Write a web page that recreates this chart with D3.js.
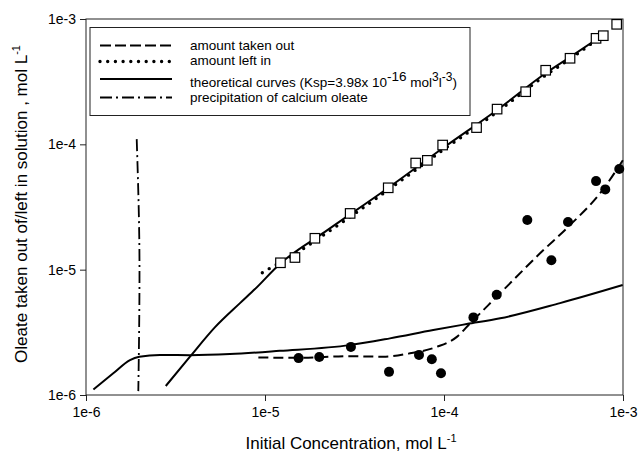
<!DOCTYPE html>
<html>
<head>
<meta charset="utf-8">
<script src="https://cdn.jsdelivr.net/npm/d3@7"></script>
<style>
  body { margin: 0; background: #fff; }
  svg { display: block; font-family: Arial, "Liberation Sans", sans-serif; }
</style>
</head>
<body>
<div id="chart"></div>
<script>
// --------------- Data ---------------
// measured: amount left in solution (open squares)
const leftInConc = [1.22e-5, 1.47e-5, 1.90e-5, 2.99e-5, 4.88e-5, 6.95e-5, 8.07e-5, 9.83e-5,
  1.52e-4, 1.98e-4, 2.86e-4, 3.70e-4, 5.06e-4, 7.07e-4, 7.76e-4, 9.22e-4];
const leftInVal = [1.135e-5, 1.25e-5, 1.78e-5, 2.81e-5, 4.50e-5, 7.09e-5, 7.45e-5, 9.87e-5,
  1.36e-4, 1.91e-4, 2.63e-4, 3.90e-4, 4.86e-4, 7.01e-4, 7.36e-4, 9.07e-4];

// measured: amount taken out (filled circles)
const takenOutConc = [1.54e-5, 2.01e-5, 3.02e-5, 4.93e-5, 7.25e-5, 8.55e-5, 9.62e-5, 1.46e-4,
  1.97e-4, 2.92e-4, 3.98e-4, 4.93e-4, 7.07e-4, 7.96e-4, 9.53e-4];
const takenOutVal = [1.97e-6, 2.01e-6, 2.42e-6, 1.53e-6, 2.09e-6, 1.93e-6, 1.49e-6, 4.16e-6,
  6.30e-6, 2.49e-5, 1.19e-5, 2.40e-5, 5.09e-5, 4.37e-5, 6.35e-5];

// curve: amount taken out (dashed)
const takenCurveConc = [9.18e-6, 1.54e-5, 2.98e-5, 4.58e-5, 6.46e-5, 9.10e-5, 1.18e-4, 1.40e-4,
  1.97e-4, 3.44e-4, 5.06e-4, 7.44e-4, 1.0e-3];
const takenCurveVal = [1.995e-6, 1.98e-6, 2.04e-6, 2.02e-6, 2.15e-6, 2.42e-6, 2.91e-6, 3.73e-6,
  6.08e-6, 1.35e-5, 2.27e-5, 4.06e-5, 7.49e-5];

// curve: amount left in (dotted)
const leftCurveConc = [9.66e-6, 1.076e-5, 1.29e-5, 2.16e-5, 4.87e-5, 9.87e-5, 1.98e-4, 3.71e-4,
  5.06e-4, 6.98e-4];
const leftCurveVal = [9.45e-6, 1.035e-5, 1.19e-5, 1.92e-5, 4.32e-5, 9.01e-5, 1.81e-4, 3.57e-4,
  4.80e-4, 6.67e-4];

// theoretical curves (solid)
const theoryAConc = [1.10e-6, 1.42e-6, 1.76e-6, 1.985e-6, 2.59e-6, 3.81e-6, 6.37e-6, 1.21e-5,
  2.98e-5, 4.99e-5, 8.71e-5, 1.34e-4, 2.06e-4, 4.45e-4, 9.96e-4];
const theoryAVal = [1.108e-6, 1.49e-6, 1.90e-6, 2.02e-6, 2.09e-6, 2.08e-6, 2.12e-6, 2.25e-6,
  2.50e-6, 2.83e-6, 3.30e-6, 3.68e-6, 4.09e-6, 5.41e-6, 7.54e-6];
const theoryBConc = [2.79e-6, 3.81e-6, 5.26e-6, 7.25e-6, 8.79e-6, 1.21e-5, 2.16e-5, 4.87e-5,
  9.87e-5, 1.98e-4, 3.71e-4, 5.06e-4, 7.44e-4];
const theoryBVal = [1.18e-6, 2.02e-6, 3.48e-6, 5.41e-6, 7.0e-6, 1.11e-5, 2.0e-5, 4.48e-5,
  9.34e-5, 1.88e-4, 3.71e-4, 4.97e-4, 7.18e-4];

// precipitation of calcium oleate (dash-dot)
const precipConc = [1.92e-6, 1.99e-6, 1.96e-6];
const precipVal = [1.10e-4, 9.93e-6, 1.074e-6];

const tickValues = [1e-6, 1e-5, 1e-4, 1e-3];

// --------------- Constants ---------------
const WIDTH = 641;
const HEIGHT = 459;
const LEFT = 86, RIGHT = 623, TOP = 19, BOTTOM = 395;
const INK = "#000";

const zip = (xs, ys) => xs.map((x, i) => [x, ys[i]]);

const svg = d3.select("#chart").append("svg")
  .attr("width", WIDTH)
  .attr("height", HEIGHT);

const x = d3.scaleLog().domain([1e-6, 1e-3]).range([LEFT, RIGHT]);
const y = d3.scaleLog().domain([1e-6, 1e-3]).range([BOTTOM, TOP]);

const fmt = (d) => "1e" + Math.round(Math.log10(d));

// axes
const xAxis = svg.append("g")
  .attr("transform", `translate(0,${BOTTOM})`)
  .call(d3.axisBottom(x).tickValues(tickValues).tickFormat(fmt).tickSize(6).tickPadding(6));
const yAxis = svg.append("g")
  .attr("transform", `translate(${LEFT},0)`)
  .call(d3.axisLeft(y).tickValues(tickValues).tickFormat(fmt).tickSize(6).tickPadding(4));

[xAxis, yAxis].forEach((a) => {
  a.select(".domain").remove();
  a.selectAll("line").attr("stroke", "#222");
  a.selectAll("text").attr("font-size", 14).attr("fill", INK)
    .attr("font-family", "Arial, 'Liberation Sans', sans-serif");
});

// frame
svg.append("rect")
  .attr("x", LEFT).attr("y", TOP)
  .attr("width", RIGHT - LEFT).attr("height", BOTTOM - TOP)
  .attr("fill", "none").attr("stroke", "#222").attr("stroke-width", 1);

// --------------- Curves ---------------
const line = d3.line().x((d) => x(d[0])).y((d) => y(d[1])).curve(d3.curveMonotoneX);
const vline = d3.line().x((d) => x(d[0])).y((d) => y(d[1])).curve(d3.curveMonotoneY);

const plot = svg.append("g");

plot.append("path").datum(zip(theoryAConc, theoryAVal))
  .attr("d", line).attr("fill", "none").attr("stroke", INK).attr("stroke-width", 2);
plot.append("path").datum(zip(theoryBConc, theoryBVal))
  .attr("d", line).attr("fill", "none").attr("stroke", INK).attr("stroke-width", 2);
plot.append("path").datum(zip(takenCurveConc, takenCurveVal))
  .attr("d", line).attr("fill", "none").attr("stroke", INK).attr("stroke-width", 2)
  .attr("stroke-dasharray", "10,5");
plot.append("path").datum(zip(leftCurveConc, leftCurveVal))
  .attr("d", line).attr("fill", "none").attr("stroke", INK).attr("stroke-width", 3.4)
  .attr("stroke-linecap", "round").attr("stroke-dasharray", "0,8");
plot.append("path").datum(zip(precipConc, precipVal))
  .attr("d", vline).attr("fill", "none").attr("stroke", INK).attr("stroke-width", 1.8)
  .attr("stroke-dasharray", "12,4,2,4");

// markers
plot.append("g").selectAll("circle")
  .data(zip(takenOutConc, takenOutVal))
  .join("circle")
  .attr("cx", (d) => x(d[0])).attr("cy", (d) => y(d[1]))
  .attr("r", 5).attr("fill", INK);

const SQ = 9.5;
plot.append("g").selectAll("rect")
  .data(zip(leftInConc, leftInVal))
  .join("rect")
  .attr("x", (d) => x(d[0]) - SQ / 2).attr("y", (d) => y(d[1]) - SQ / 2)
  .attr("width", SQ).attr("height", SQ)
  .attr("fill", "#fff").attr("stroke", INK).attr("stroke-width", 1.2);

// --------------- Legend ---------------
const legend = svg.append("g");
legend.append("rect")
  .attr("x", 90).attr("y", 27.5).attr("width", 380).attr("height", 88)
  .attr("fill", "#fff").attr("stroke", "#222").attr("stroke-width", 1);

const samples = [
  { y: 45.5, dash: "11,4", w: 2, cap: "butt" },
  { y: 61.5, dash: "0,7.7", w: 3.4, cap: "round" },
  { y: 79, dash: null, w: 2, cap: "butt" },
  { y: 97.5, dash: "12,4,2,4", w: 1.8, cap: "butt" },
];
samples.forEach((s) => {
  legend.append("line")
    .attr("x1", 100).attr("x2", 172).attr("y1", s.y).attr("y2", s.y)
    .attr("stroke", INK).attr("stroke-width", s.w)
    .attr("stroke-linecap", s.cap)
    .attr("stroke-dasharray", s.dash);
});

const lt = legend.append("g").attr("font-size", 13.5).attr("fill", INK);
lt.append("text").attr("x", 190).attr("y", 50).text("amount taken out");
lt.append("text").attr("x", 190).attr("y", 65).text("amount left in");
const th = lt.append("text").attr("x", 190).attr("y", 86.5);
th.append("tspan").text("theoretical curves (Ksp=3.98x 10");
th.append("tspan").attr("dy", -6).attr("font-size", 13.5).text("-16");
th.append("tspan").attr("dy", 6).text(" mol");
th.append("tspan").attr("dy", -6).attr("font-size", 12).text("3");
th.append("tspan").attr("dy", 6).text("l");
th.append("tspan").attr("dy", -6).attr("font-size", 12).text("-3");
th.append("tspan").attr("dy", 6).text(")");
lt.append("text").attr("x", 190).attr("y", 102).text("precipitation of calcium oleate");

// --------------- Axis titles ---------------
const xt = svg.append("text")
  .attr("x", 351).attr("y", 449)
  .attr("text-anchor", "middle").attr("font-size", 17).attr("fill", INK);
xt.append("tspan").text("Initial Concentration, mol L");
xt.append("tspan").attr("dy", -7).attr("font-size", 11).text("-1");

const yt = svg.append("text")
  .attr("transform", "translate(27,204) rotate(-90)")
  .attr("text-anchor", "middle").attr("font-size", 17).attr("fill", INK);
yt.append("tspan").text("Oleate taken out of/left in solution , mol L");
yt.append("tspan").attr("dy", -7).attr("font-size", 11).text("-1");
</script>
</body>
</html>
